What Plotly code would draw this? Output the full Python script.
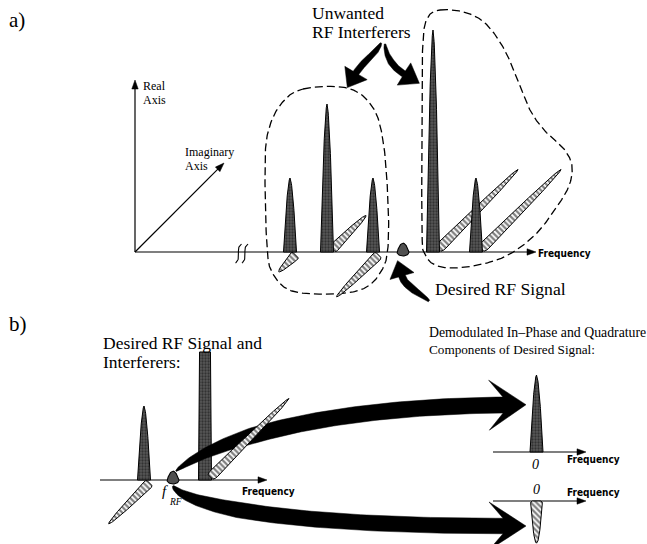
import numpy as np
import plotly.graph_objects as go

# ---------------- spectral content ----------------
# a) received RF band: real and imaginary amplitude of each tone
A_FREQ = [3.875, 4.8, 5.95, 6.7, 7.45, 8.525]
A_REAL = [1.0, 2.0, 1.0, 0.12, 3.0, 1.0]
A_IMAG = [-0.32, 0.64, -0.8, 0.0, 1.52, 1.52]
A_DESIRED = 3

# b) desired tone with two interferers, and its demodulated I/Q parts
B_FREQ = [1.1, 1.825, 2.625]
B_REAL = [1.0, 0.12, 1.73]
B_IMAG = [-0.78, 0.0, 1.5]
B_DESIRED = 1
B_CLIPPED = 2          # tallest interferer is drawn cut off
BB_FREQ = 0.0
BB_I = 1.04
BB_Q = -0.57

# ---------------- drawing frames (canvas pixels) ----------------
W, H = 647, 544
FRAME_A = dict(x0=135.0, y0=252.0, fx=40.0, amp=74.0)
FRAME_B = dict(x0=100.0, y0=480.0, fx=40.0, amp=74.0)
FRAME_I = dict(x0=536.5, y0=452.0, fx=40.0, amp=74.0)
FRAME_Q = dict(x0=536.5, y0=501.0, fx=40.0, amp=74.0)
DIAG = np.array([1.0, -1.0]) / np.sqrt(2.0)   # imaginary-axis direction

SERIF = "Liberation Serif, Times New Roman, serif"
NARROW = "Liberation Sans Narrow, DejaVu Sans Condensed, Arial Narrow, sans-serif"
GREY_FILL = dict(shape=".", fgcolor="#0c0c0c", bgcolor="#585858", size=3, solidity=0.45)
HATCH_FILL = dict(shape="\\", fgcolor="black", bgcolor="white", size=4, solidity=0.55)

fig = go.Figure()


def poly(pts, color="black", width=0.8, fillcolor="black", pattern=None):
    pts = np.asarray(pts, float)
    pts = np.vstack([pts, pts[:1]])
    kw = dict(fillpattern=pattern) if pattern else dict(fillcolor=fillcolor)
    fig.add_trace(go.Scatter(x=pts[:, 0], y=pts[:, 1], mode="lines", fill="toself",
                             line=dict(color=color, width=width), hoverinfo="skip", **kw))


def line(pts, width=1.2, dash=None):
    pts = np.asarray(pts, float)
    fig.add_trace(go.Scatter(x=pts[:, 0], y=pts[:, 1], mode="lines",
                             line=dict(color="black", width=width, dash=dash), hoverinfo="skip"))


def head(tip, d, L=9.0, hw=3.2):
    d = np.asarray(d, float)
    d = d / np.linalg.norm(d)
    n = np.array([-d[1], d[0]])
    tip = np.asarray(tip, float)
    b = tip - d * L
    poly([tip, b + n * hw, b - n * hw], width=0.5)


def axis_arrow(p0, tip, L=9.0, hw=3.2):
    p0, tip = np.asarray(p0, float), np.asarray(tip, float)
    d = (tip - p0) / np.linalg.norm(tip - p0)
    line([p0, tip - d * (L - 1)], width=1.2)
    head(tip, d, L, hw)


def fx(fr, f):
    return fr["x0"] + f * fr["fx"]


def real_spike(fr, f, amp, w=13.0, clipped=False):
    xc, yb, h = fx(fr, f), fr["y0"], amp * fr["amp"]
    t = np.linspace(0, 1, 40)
    hw = w / 2 * (1 - 0.16 * t) if clipped else w / 2 * (1 - t) ** 0.6
    y = yb - t * h
    pts = np.r_[np.c_[xc - hw, y], np.c_[xc + hw, y][::-1]]
    poly(pts, width=1.0, pattern=GREY_FILL)


def blob(fr, f, amp, w=12.0, below=4.0):
    xc, yb, h = fx(fr, f), fr["y0"], amp * fr["amp"]
    t = np.linspace(0, 1, 30)
    left = np.c_[xc - w / 2 * np.sqrt(1 - t), yb - t * h][::-1]      # top -> base, left side
    th = np.linspace(np.pi, 2 * np.pi, 30)
    lower = np.c_[xc + w / 2 * np.cos(th), yb - below * np.sin(th)]  # left -> right, under base
    right = np.c_[xc + w / 2 * np.sqrt(1 - t), yb - t * h]           # base -> top, right side
    poly(np.r_[left, lower, right], width=1.1, fillcolor="#505050")


def imag_spike(base, direction, length, w=9.0):
    base = np.asarray(base, float)
    d = np.asarray(direction, float)
    d = d / np.linalg.norm(d)
    n = np.array([-d[1], d[0]])
    s = np.linspace(0, 1, 40)
    hw = w / 2 * np.sqrt(1 - s) * (0.35 + 0.65 * np.minimum(1, s / 0.06 + 0.5))
    c = base[None, :] + (s * length)[:, None] * d[None, :]
    pts = np.r_[c + n * hw[:, None], (c - n * hw[:, None])[::-1]]
    poly(pts, width=1.0, pattern=HATCH_FILL)


def imag_diag(fr, f, im, w_real=13.0, w=9.5):
    xc, yb = fx(fr, f), fr["y0"]
    sgn = 1.0 if im >= 0 else -1.0
    base = np.array([xc + w_real / 2 - 1.0, yb - sgn * 3.0])
    imag_spike(base, DIAG * sgn, abs(im) * fr["amp"], w)


def bezier(P, n=80):
    P = np.asarray(P, float)
    t = np.linspace(0, 1, n)[:, None]
    return (1 - t) ** 3 * P[0] + 3 * (1 - t) ** 2 * t * P[1] + 3 * (1 - t) * t ** 2 * P[2] + t ** 3 * P[3]


def curved_arrow(P, w0, w1, head_len, head_half, notch=0.0, grow=0.5):
    c = bezier(P)
    d = np.gradient(c, axis=0)
    d /= np.linalg.norm(d, axis=1)[:, None]
    n = np.c_[-d[:, 1], d[:, 0]]
    t = np.linspace(0, 1, len(c))
    w = w0 + (w1 - w0) * np.minimum(1.0, t / grow) ** 0.7
    left = c + n * (w / 2)[:, None]
    right = c - n * (w / 2)[:, None]
    e, de, ne = c[-1], d[-1], n[-1]
    tip = e + de * head_len
    bl = e + ne * head_half - de * notch
    br = e - ne * head_half - de * notch
    poly(np.r_[left, [bl, tip, br], right[::-1]], width=0.5)


def smooth_closed(pts, n=24):
    P = np.asarray(pts, float)
    m = len(P)
    out = []
    t = np.linspace(0, 1, n, endpoint=False)[:, None]
    for i in range(m):
        p0, p1, p2, p3 = P[i - 1], P[i], P[(i + 1) % m], P[(i + 2) % m]
        out.append(0.5 * (2 * p1 + (-p0 + p2) * t + (2 * p0 - 5 * p1 + 4 * p2 - p3) * t ** 2
                          + (-p0 + 3 * p1 - 3 * p2 + p3) * t ** 3))
    out = np.vstack(out)
    return np.vstack([out, out[:1]])


# ================= panel a =================
# dashed groupings of the interferers
left_group = [(303, 89), (347, 88), (372, 106), (383, 140), (388, 200), (388, 247), (382, 270),
              (365, 288), (333, 294), (292, 291), (273, 274), (267, 247), (265, 170), (268, 132),
              (281, 104)]
right_group = [(440, 10), (464, 12), (485, 23), (503, 47), (517, 78), (530, 110), (545, 131),
               (564, 149), (572, 166), (569, 186), (556, 208), (536, 234), (510, 254), (483, 264),
               (455, 268), (435, 265), (425, 254), (422, 232), (422, 110), (423, 40), (428, 17)]
line(smooth_closed(left_group), width=1.3, dash="8px,4px")
line(smooth_closed(right_group), width=1.3, dash="8px,4px")

ya = FRAME_A["y0"]
axis_arrow((FRAME_A["x0"], ya), (FRAME_A["x0"], 80))
axis_arrow((FRAME_A["x0"], ya), (224, 163))
axis_arrow((FRAME_A["x0"], ya), (536, ya))
# axis break
for xb in (238.5, 245.0):
    line(bezier([(xb + 3, 244), (xb - 4, 249), (xb + 4, 257), (xb - 3, 263)], 30), width=1.1)

for f, re, im in zip(A_FREQ, A_REAL, A_IMAG):
    if im != 0:
        imag_diag(FRAME_A, f, im)
for i, (f, re) in enumerate(zip(A_FREQ, A_REAL)):
    if i == A_DESIRED:
        blob(FRAME_A, f, re)
    else:
        real_spike(FRAME_A, f, re)

# pointer arrows
curved_arrow([(381, 43), (377, 54), (363, 61), (356, 73)], 1.5, 6.5, 17, 13)
curved_arrow([(385, 44), (386, 58), (394, 68), (404, 74)], 1.5, 6.5, 18, 13)
curved_arrow([(429, 301), (420, 293), (405, 287), (402, 276)], 2.0, 7.0, 16, 12.5)

# ================= panel b =================
yb = FRAME_B["y0"]
axis_arrow((FRAME_B["x0"], yb), (267, yb))
for i, (f, re, im) in enumerate(zip(B_FREQ, B_REAL, B_IMAG)):
    if im < 0:
        imag_diag(FRAME_B, f, im)
for i, (f, re) in enumerate(zip(B_FREQ, B_REAL)):
    if i == B_DESIRED:
        blob(FRAME_B, f, re)
    else:
        real_spike(FRAME_B, f, re, clipped=(i == B_CLIPPED))

# demodulation arrows from the desired tone to its I and Q parts
curved_arrow([(176, 471), (214, 440), (320, 407), (503, 405)], 1.0, 16.0, 23, 25, notch=14, grow=0.4)
curved_arrow([(173, 486), (186, 508), (300, 526), (503, 526)], 1.5, 15.5, 23, 24, notch=14, grow=0.4)

for f, re, im in zip(B_FREQ, B_REAL, B_IMAG):
    if im > 0:
        imag_diag(FRAME_B, f, im)

# baseband in-phase and quadrature components
axis_arrow((493, FRAME_I["y0"]), (586, FRAME_I["y0"]))
axis_arrow((493, FRAME_Q["y0"]), (586, FRAME_Q["y0"]))
real_spike(FRAME_I, BB_FREQ, BB_I)
imag_spike((fx(FRAME_Q, BB_FREQ), FRAME_Q["y0"]), (0, -np.sign(BB_Q)), abs(BB_Q) * FRAME_Q["amp"], w=12)


# ================= text =================
def text(s, x, y, size, family=SERIF, xanchor="left", color="black"):
    fig.add_annotation(x=x, y=y, text=s, showarrow=False, xanchor=xanchor, yanchor="middle",
                       font=dict(family=family, size=size, color=color), xref="x", yref="y",
                       borderpad=0)


text("a)", 8, 20, 21)
text("b)", 8, 324, 21)
text("Unwanted", 311, 12.5, 17.5)
text("RF Interferers", 311, 32, 17.5)
text("Real", 142, 86, 12)
text("Axis", 142, 100, 12)
text("Imaginary", 184, 151.5, 12)
text("Axis", 184, 166, 12)
text("<b>Frequency</b>", 537, 253, 10, NARROW)
text("Desired RF Signal", 434, 289, 17.7)
text("Desired RF Signal and", 102, 342.5, 17.5)
text("Interferers:", 102, 362, 17.5)
text("<b>Frequency</b>", 241, 491, 10, NARROW)
text("<i>f</i>", 161, 491, 15)
text("<i>RF</i>", 168, 502, 9.5)
text("Demodulated In\u2013Phase and Quadrature", 428, 332, 13.8)
text("Components of Desired Signal:", 428, 349, 13.2)
text("<b>Frequency</b>", 566, 459, 10, NARROW)
text("<b>Frequency</b>", 566, 492, 10, NARROW)
text("<i>0</i>", fx(FRAME_I, BB_FREQ) - 1, 464, 14, xanchor="center")
text("<i>0</i>", fx(FRAME_Q, BB_FREQ), 489, 14, xanchor="center")

fig.update_layout(
    width=W, height=H, autosize=False,
    margin=dict(l=0, r=0, t=0, b=0),
    paper_bgcolor="white", plot_bgcolor="white",
    showlegend=False,
    xaxis=dict(range=[0, W], visible=False, fixedrange=True),
    yaxis=dict(range=[H, 0], visible=False, fixedrange=True),
)
fig.write_html("out.html")
